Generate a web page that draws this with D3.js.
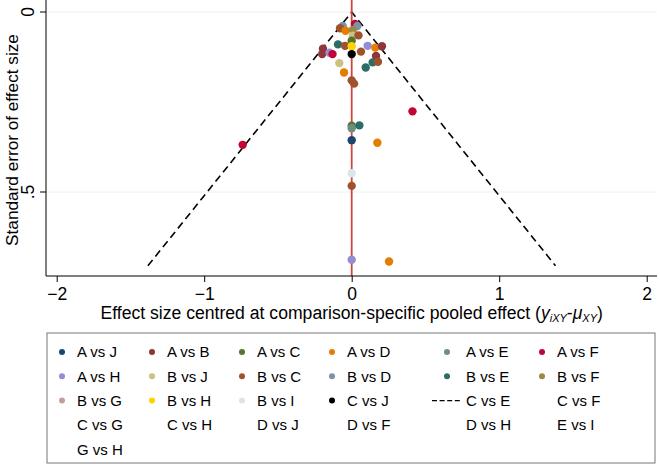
<!DOCTYPE html>
<html><head><meta charset="utf-8">
<script src="https://cdn.jsdelivr.net/npm/d3@7"></script>
<style>
body{margin:0;background:#fff;}
svg{display:block;font-family:Arial,"Liberation Sans",sans-serif;}
</style></head>
<body><svg id="chart" width="660" height="466"></svg>
<script>
// ---------- data ----------
const comparisons = ["A vs J","A vs B","A vs C","A vs D","A vs E","A vs F",
  "A vs H","B vs J","B vs C","B vs D","B vs E","B vs F",
  "B vs G","B vs H","B vs I","C vs J","C vs E","C vs F",
  "C vs G","C vs H","D vs J","D vs F","D vs H","E vs I","G vs H"];
const seriesColors = ["#1A476F","#90353B","#55752F","#E37E00","#6E8E84","#C10534",
  "#938DD2","#CAC27E","#A0522D","#7B92A8","#2D6D66","#9C8847",
  "#BFA19C","#FFD200","#D9E6EB","#000000",null,null,null,null,null,null,null,null,null];
// each point: series, centred effect, standard error
const pointSeries = ["A vs F","B vs D","B vs D","B vs C","A vs D","B vs F","B vs J","B vs C","A vs C","B vs E",
  "B vs C","B vs H","A vs H","A vs D","A vs B","C vs J","B vs C","A vs B","B vs E","B vs C",
  "B vs E","B vs J","A vs D","B vs C","B vs C","A vs B","A vs B","A vs H","A vs F","A vs F",
  "A vs C","A vs E","B vs E","A vs J","A vs D","B vs I","B vs C","A vs F","A vs H","A vs D"];
const pointEffect = [0.022,0.038,-0.061,-0.079,-0.042,0.007,0.007,0.046,0,-0.093,
  -0.045,0,0.108,0.160,0.205,0,0.063,0.165,0.142,0.178,
  0.095,-0.084,-0.052,0,0.016,-0.195,-0.200,-0.150,-0.130,0.412,
  0,0,0.052,0,0.174,0,0,-0.739,0,0.253];
const pointSE = [0.033,0.039,0.039,0.045,0.052,0.050,0.066,0.065,0.080,0.090,
  0.094,0.095,0.094,0.099,0.095,0.117,0.110,0.122,0.140,0.138,
  0.154,0.142,0.168,0.190,0.199,0.102,0.117,0.113,0.117,0.276,
  0.316,0.323,0.315,0.356,0.363,0.448,0.483,0.369,0.688,0.693];
const xTicks = [-2,-1,0,1,2];
const yTicks = [0,0.5];
const yTickLabels = ["0",".5"];
const funnelSE = [0, 0.705];
const zCrit = 1.96;

// ---------- layout ----------
const FONT = "Arial,'Liberation Sans',sans-serif";
const svg = d3.select("#chart");
const x = d3.scaleLinear().domain([-2,2]).range([56.7,646.7]);
const y = d3.scaleLinear().domain([0,0.5]).range([12,192]);
const axisLeft = 46, axisRight = 657, axisBottom = 276, plotTop = 0;
const colorOf = new Map(comparisons.map((c,i)=>[c,seriesColors[i]]));

// grid lines
svg.append("g").selectAll("line").data(yTicks).join("line")
  .attr("x1",axisLeft).attr("x2",axisRight)
  .attr("y1",d=>y(d)).attr("y2",d=>y(d))
  .attr("stroke","#EAF2F3").attr("stroke-width",1);

// funnel (pseudo 95% CI)
const funnelPts = [[-zCrit*funnelSE[1],funnelSE[1]],[0,funnelSE[0]],[zCrit*funnelSE[1],funnelSE[1]]];
svg.append("path")
  .attr("d", d3.line().x(d=>x(d[0])).y(d=>y(d[1]))(funnelPts))
  .attr("fill","none").attr("stroke","#000").attr("stroke-width",1.6)
  .attr("stroke-dasharray","7.5,4.5");

// zero line
svg.append("line").attr("x1",x(0)).attr("x2",x(0)).attr("y1",plotTop).attr("y2",axisBottom)
  .attr("stroke","#D0443F").attr("stroke-width",1.8);

// points
const pts = pointSeries.map((s,i)=>({s, v:pointEffect[i], se:pointSE[i]}));
svg.append("g").selectAll("circle").data(pts).join("circle")
  .attr("cx",d=>x(d.v)).attr("cy",d=>y(d.se)).attr("r",4.2)
  .attr("fill",d=>colorOf.get(d.s));

// x axis
const gx = svg.append("g").attr("transform",`translate(0,${axisBottom})`)
  .call(d3.axisBottom(x).tickValues(xTicks).tickFormat(d3.format("d")).tickSize(6).tickPadding(6));
gx.select(".domain").remove();
gx.append("line").attr("x1",axisLeft).attr("x2",axisRight).attr("stroke","#000").attr("stroke-width",1);
gx.selectAll(".tick line").attr("stroke","#000");
gx.selectAll(".tick text").attr("font-size",17.5).attr("fill","#000").attr("font-family",FONT);

// y axis (rotated tick labels, Stata style)
const gy = svg.append("g");
gy.append("line").attr("x1",axisLeft).attr("x2",axisLeft).attr("y1",plotTop).attr("y2",axisBottom)
  .attr("stroke","#000").attr("stroke-width",1);
gy.selectAll(".yt").data(yTicks).join("line").attr("class","yt")
  .attr("x1",axisLeft-6).attr("x2",axisLeft).attr("y1",d=>y(d)).attr("y2",d=>y(d)).attr("stroke","#000");
gy.selectAll(".yl").data(yTicks).join("text").attr("class","yl")
  .attr("transform",d=>`translate(34,${y(d)}) rotate(-90)`)
  .attr("text-anchor","middle").attr("font-size",17.5).attr("fill","#000").attr("font-family",FONT)
  .text((d,i)=>yTickLabels[i]);

// y title
svg.append("text").attr("transform","translate(18,140) rotate(-90)")
  .attr("text-anchor","middle").attr("font-size",17.2).attr("fill","#000")
  .text("Standard error of effect size");

// x title
const xt = svg.append("text").attr("x",351.7).attr("y",319).attr("text-anchor","middle")
  .attr("font-size",17.6).attr("fill","#000");
xt.append("tspan").text("Effect size centred at comparison-specific pooled effect (");
xt.append("tspan").attr("font-style","italic").text("y");
xt.append("tspan").attr("font-style","italic").attr("font-size",11).attr("dy",3).text("iXY");
xt.append("tspan").attr("dy",-3).text("-");
xt.append("tspan").attr("font-style","italic").text("\u03BC");
xt.append("tspan").attr("font-style","italic").attr("font-size",11).attr("dy",3).text("XY");
xt.append("tspan").attr("dy",-3).text(")");

// legend
const lgTop = 333, lgBottom = 463, lgLeft = 47, lgRight = 655;
svg.append("rect").attr("x",lgLeft).attr("y",lgTop).attr("width",lgRight-lgLeft).attr("height",lgBottom-lgTop)
  .attr("fill","#fff").attr("stroke","#777").attr("stroke-width",1);
const keyX = [62,152,242,332,447,542];
const textX = [77,167,257,347,466,557];
const rowY0 = 352, rowH = 24.3;
const lg = svg.append("g");
comparisons.forEach((c,i)=>{
  const col = i%6, row = Math.floor(i/6);
  const cy = rowY0 + row*rowH;
  if (seriesColors[i]) {
    lg.append("circle").attr("cx",keyX[col]).attr("cy",cy).attr("r",3).attr("fill",seriesColors[i]);
  } else if (c === "C vs E") {
    lg.append("line").attr("x1",keyX[col]-15).attr("x2",keyX[col]+15).attr("y1",cy).attr("y2",cy)
      .attr("stroke","#000").attr("stroke-width",1.4).attr("stroke-dasharray","5,2.6");
  }
  lg.append("text").attr("x",textX[col]).attr("y",cy).attr("dy","0.36em")
    .attr("font-size",15).attr("fill","#000").attr("font-family",FONT).text(c);
});
</script></body></html>
